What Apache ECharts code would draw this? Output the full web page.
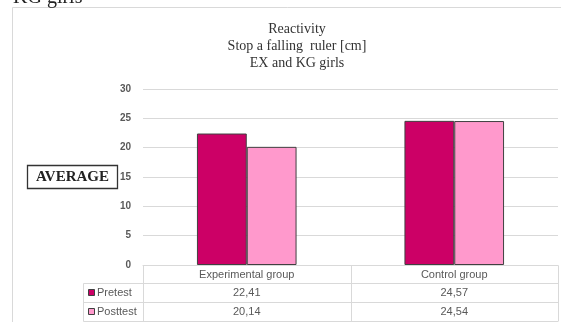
<!DOCTYPE html>
<html>
<head>
<meta charset="utf-8">
<style>
  html, body { margin: 0; padding: 0; background: #fff; }
  #chart { width: 561px; height: 322px; }
</style>
<script src="https://cdn.jsdelivr.net/npm/echarts@6/dist/echarts.min.js"></script>
</head>
<body>
<div id="chart"></div>
<script>
// Reaction test: catching a falling ruler, girls of the EX and KG groups
const categories = ['Experimental group', 'Control group'];
const seriesNames = ['Pretest', 'Posttest'];
const pretest = [22.41, 24.57];
const posttest = [20.14, 24.54];
const yMin = 0, yMax = 30, yStep = 5;
const titleLines = ['Reactivity', 'Stop a falling  ruler [cm]', 'EX and KG girls'];

const colors = ['#CC0066', '#FF99CC'];
const gridColor = '#d9d9d9';
const labelColor = '#595959';
const sans = 'Liberation Sans';
const serif = 'Liberation Serif';

const chart = echarts.init(document.getElementById('chart'), null, { renderer: 'canvas' });

const seriesData = [pretest, posttest];

chart.setOption({
  animation: false,
  backgroundColor: '#fff',
  title: {
    text: titleLines.join('\n'),
    left: 292,
    top: 16,
    textAlign: 'center',
    textStyle: { fontFamily: serif, fontSize: 14, fontWeight: 'normal', color: '#333', lineHeight: 17 }
  },
  grid: { left: 143, right: 3, top: 89, bottom: 57, containLabel: false },
  xAxis: {
    type: 'category',
    data: categories,
    axisLine: { show: true, lineStyle: { color: gridColor } },
    axisTick: { show: false },
    axisLabel: { show: false },
    splitLine: { show: false }
  },
  yAxis: {
    type: 'value',
    min: yMin, max: yMax, interval: yStep,
    axisLine: { show: false },
    axisTick: { show: false },
    axisLabel: { margin: 12, color: labelColor, fontFamily: sans, fontSize: 10, fontWeight: 'bold' },
    splitLine: { lineStyle: { color: gridColor, width: 1 } }
  },
  series: seriesNames.map((name, i) => ({
    name,
    type: 'bar',
    data: seriesData[i],
    barGap: '0%',
    barCategoryGap: '52%',
    itemStyle: { color: colors[i], borderColor: '#404040', borderWidth: 1 }
  }))
});

// Data table under the plot, laid out from the category axis
function buildGraphics() {
  const centers = categories.map((_, i) => chart.convertToPixel({ xAxisIndex: 0 }, i));
  const band = centers.length > 1 ? centers[1] - centers[0] : 200;
  const left = centers[0] - band / 2;
  const right = centers[centers.length - 1] + band / 2;
  const top = chart.convertToPixel({ yAxisIndex: 0 }, yMin);
  const rowH = [18, 19, 19];
  const rowTop = [top, top + rowH[0], top + rowH[0] + rowH[1]];
  const bottom = rowTop[2] + rowH[2];
  const legendLeft = 83;
  const line = (x1, y1, x2, y2) => ({
    type: 'line', silent: true,
    shape: { x1, y1, x2, y2 },
    style: { stroke: gridColor, lineWidth: 1 }
  });
  const els = [];

  // outer chart frame
  els.push({
    type: 'rect', silent: true,
    shape: { x: 12.5, y: 7.5, width: 560, height: 330 },
    style: { fill: 'none', stroke: gridColor, lineWidth: 1 }
  });

  // caption text above the frame
  els.push({
    type: 'text', silent: true, x: 13, y: -2,
    style: { text: 'KG girls', font: '20px "Liberation Serif"', fill: '#222', verticalAlign: 'middle', align: 'left' }
  });

  // boxed axis caption
  els.push({
    type: 'rect', silent: true,
    shape: { x: 27.5, y: 165.5, width: 90, height: 23 },
    style: { fill: '#fff', stroke: '#333', lineWidth: 1.3 }
  });
  els.push({
    type: 'text', silent: true, x: 72.5, y: 177,
    style: { text: 'AVERAGE', font: 'bold 15px "Liberation Serif"', fill: '#222', align: 'center', verticalAlign: 'middle' }
  });

  // table grid
  const y1 = Math.round(rowTop[1]) + 0.5, y2 = Math.round(rowTop[2]) + 0.5, yb = Math.round(bottom) + 0.5;
  const yt = Math.round(top) + 0.5;
  els.push(line(legendLeft + 0.5, y1, right, y1));
  els.push(line(legendLeft + 0.5, y2, right, y2));
  els.push(line(legendLeft + 0.5, yb, right, yb));
  els.push(line(legendLeft + 0.5, y1, legendLeft + 0.5, yb));
  for (let k = 0; k <= categories.length; k++) {
    const x = Math.round(left + band * k) + 0.5;
    els.push(line(x, yt, x, yb));
  }

  const cellFont = '11px "Liberation Sans"';
  categories.forEach((c, i) => {
    els.push({
      type: 'text', silent: true, x: centers[i], y: rowTop[0] + rowH[0] / 2 + 0.5,
      style: { text: c, font: cellFont, fill: labelColor, align: 'center', verticalAlign: 'middle' }
    });
    seriesData.forEach((arr, s) => {
      els.push({
        type: 'text', silent: true, x: centers[i], y: rowTop[s + 1] + rowH[s + 1] / 2 + 0.5,
        style: { text: arr[i].toFixed(2).replace('.', ','), font: cellFont, fill: labelColor, align: 'center', verticalAlign: 'middle' }
      });
    });
  });

  // legend keys in the table's first column
  seriesNames.forEach((name, s) => {
    const cy = rowTop[s + 1] + rowH[s + 1] / 2;
    els.push({
      type: 'rect', silent: true,
      shape: { x: 88.5, y: Math.round(cy - 3.5) + 0.5, width: 6, height: 6 },
      style: { fill: colors[s], stroke: '#404040', lineWidth: 1 }
    });
    els.push({
      type: 'text', silent: true, x: 97, y: cy + 0.5,
      style: { text: name, font: cellFont, fill: labelColor, align: 'left', verticalAlign: 'middle' }
    });
  });

  chart.setOption({ graphic: els });
}

buildGraphics();
</script>
</body>
</html>
